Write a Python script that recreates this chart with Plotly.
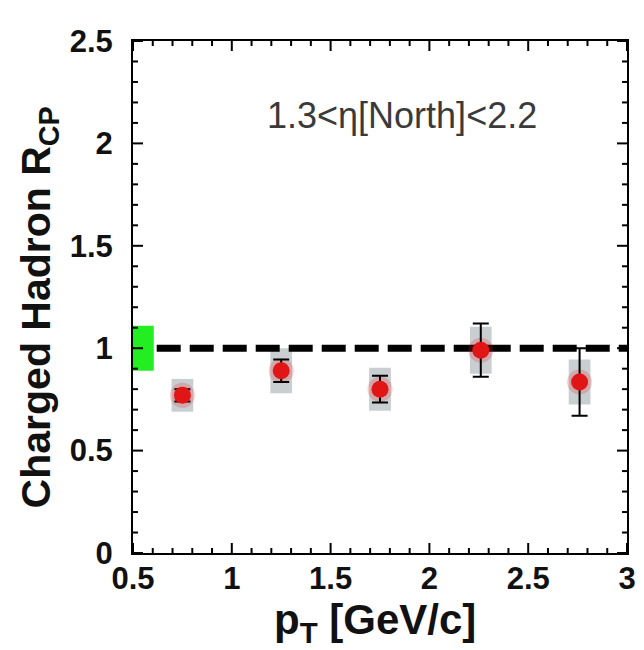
import plotly.graph_objects as go

# ---- data ----
pt = [0.75, 1.25, 1.75, 2.26, 2.76]
rcp = [0.77, 0.89, 0.80, 0.99, 0.835]
stat_err = [0.03, 0.055, 0.065, 0.13, 0.165]
sys_err = [0.08, 0.11, 0.105, 0.115, 0.11]
norm_x = [0.55]
norm_val = [1.0]
norm_err = [0.11]
ref_x = [0.62, 3.0]
ref_y = [1.0, 1.0]
x_ticks = [0.5, 1, 1.5, 2, 2.5, 3]
y_ticks = [0, 0.5, 1, 1.5, 2, 2.5]
minor_step = 0.1

FONT = "Liberation Sans, Arial, sans-serif"
MAJOR_LEN, MINOR_LEN = 10, 5

fig = go.Figure()

fig.add_trace(go.Bar(
    x=pt, y=[2 * s for s in sys_err], base=[r - s for r, s in zip(rcp, sys_err)],
    width=0.11, marker=dict(color="#c9ced1", line=dict(width=0)),
    showlegend=False, hoverinfo="skip"))

fig.add_trace(go.Bar(
    x=norm_x, y=[2 * e for e in norm_err], base=[v - e for v, e in zip(norm_val, norm_err)],
    width=0.11, marker=dict(color="#22ee22", line=dict(width=0)),
    showlegend=False, hoverinfo="skip"))

fig.add_trace(go.Scatter(
    x=ref_x, y=ref_y, mode="lines",
    line=dict(color="black", width=7, dash="24px,9px"),
    showlegend=False, hoverinfo="skip"))

fig.add_trace(go.Scatter(
    x=pt, y=rcp, mode="markers",
    marker=dict(color="rgba(230,30,30,0.22)", size=25, line=dict(width=0)),
    showlegend=False, hoverinfo="skip"))

fig.add_trace(go.Scatter(
    x=pt, y=rcp, mode="markers",
    marker=dict(color="#e01515", size=17, line=dict(width=0)),
    error_y=dict(type="data", array=stat_err, color="black", thickness=2, width=8),
    showlegend=False))

tfont = dict(family=FONT, size=31, color="#111", weight="bold")
axis_common = dict(showline=True, linecolor="black", linewidth=2, mirror=True,
                   ticks="", showgrid=False, zeroline=False, tickfont=tfont)

fig.update_xaxes(range=[x_ticks[0], x_ticks[-1]], tickvals=x_ticks,
                 ticklabelstandoff=-3, **axis_common)
fig.update_yaxes(range=[y_ticks[0], y_ticks[-1]], tickvals=y_ticks,
                 ticklabelstandoff=12, **axis_common)


# inside tick marks on all four sides, sized in pixels, placed on the axis scales
def tick_positions(lo, hi):
    n = int(round((hi - lo) / minor_step))
    return [round(lo + i * minor_step, 6) for i in range(n + 1)]


majors_x = set(round(v, 6) for v in x_ticks)
majors_y = set(round(v, 6) for v in y_ticks)
line_style = dict(color="black", width=2)
for v in tick_positions(x_ticks[0], x_ticks[-1]):
    ln = MAJOR_LEN if v in majors_x else MINOR_LEN
    for anchor, sign in ((0, 1), (1, -1)):
        fig.add_shape(type="line", xref="x", yref="paper", ysizemode="pixel",
                      yanchor=anchor, x0=v, x1=v, y0=0, y1=sign * ln,
                      line=line_style, layer="above")
for v in tick_positions(y_ticks[0], y_ticks[-1]):
    ln = MAJOR_LEN if v in majors_y else MINOR_LEN
    for anchor, sign in ((0, 1), (1, -1)):
        fig.add_shape(type="line", xref="paper", yref="y", xsizemode="pixel",
                      xanchor=anchor, y0=v, y1=v, x0=0, x1=sign * ln,
                      line=line_style, layer="above")

fig.update_layout(
    width=644, height=650,
    margin=dict(l=125, r=25, t=33, b=105),
    paper_bgcolor="white", plot_bgcolor="white",
    barmode="overlay",
    annotations=[
        dict(text="1.3<η[North]<2.2", x=0.545, y=0.855, xref="paper", yref="paper",
             showarrow=False, xanchor="center", yanchor="middle",
             font=dict(family=FONT, size=36, color="#3a3a3a")),
        dict(text="Charged Hadron R<sub>CP</sub>", x=-0.19, y=0.48, xref="paper", yref="paper",
             showarrow=False, textangle=-90, xanchor="center", yanchor="middle",
             font=dict(family=FONT, size=41, color="#111", weight="bold")),
        dict(text="p<sub>T</sub> [GeV/c]", x=0.49, y=-0.135, xref="paper", yref="paper",
             showarrow=False, xanchor="center", yanchor="middle",
             font=dict(family=FONT, size=42, color="#111", weight="bold")),
    ],
)

fig.write_html("out.html")
